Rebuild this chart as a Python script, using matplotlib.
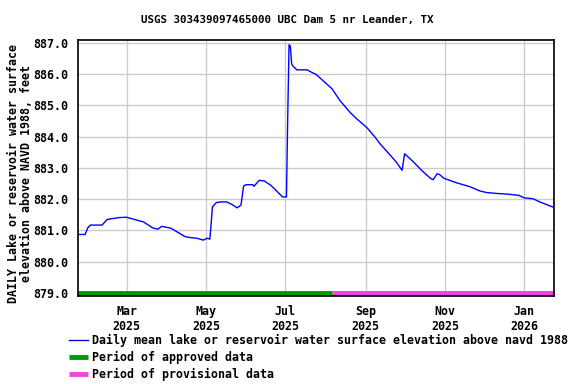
import matplotlib
matplotlib.use("Agg")
from matplotlib import pyplot as plt
import pandas as pd

# daily mean elevation
dates = ["2025-01-23", "2025-01-28", "2025-01-30", "2025-02-01", "2025-02-10",
         "2025-02-14", "2025-02-23", "2025-03-01", "2025-03-06", "2025-03-14",
         "2025-03-21", "2025-03-25", "2025-03-28", "2025-04-04", "2025-04-15",
         "2025-04-19", "2025-04-24", "2025-04-29", "2025-05-02", "2025-05-04",
         "2025-05-05", "2025-05-06", "2025-05-09", "2025-05-13", "2025-05-17",
         "2025-05-21", "2025-05-25", "2025-05-28", "2025-05-30", "2025-06-01",
         "2025-06-06", "2025-06-07", "2025-06-11", "2025-06-15", "2025-06-20",
         "2025-06-29", "2025-07-02", "2025-07-03", "2025-07-04", "2025-07-05",
         "2025-07-06", "2025-07-07", "2025-07-10", "2025-07-18", "2025-07-21",
         "2025-07-25", "2025-07-30", "2025-08-06", "2025-08-12", "2025-08-20",
         "2025-08-25", "2025-09-02", "2025-09-08", "2025-09-12", "2025-09-20",
         "2025-09-25", "2025-09-29", "2025-10-01", "2025-10-08", "2025-10-14",
         "2025-10-21", "2025-10-23", "2025-10-26", "2025-10-28", "2025-10-31",
         "2025-11-10", "2025-11-20", "2025-11-28", "2025-12-03", "2025-12-11",
         "2025-12-19", "2025-12-28", "2026-01-01", "2026-01-08", "2026-01-13",
         "2026-01-18", "2026-01-23"]
elev = [880.87, 880.87, 881.08, 881.17, 881.17,
        881.35, 881.41, 881.42, 881.36, 881.27,
        881.08, 881.04, 881.13, 881.07, 880.80,
        880.77, 880.75, 880.69, 880.75, 880.72,
        881.20, 881.75, 881.89, 881.91, 881.91,
        881.83, 881.72, 881.81, 882.42, 882.46,
        882.46, 882.41, 882.60, 882.58, 882.44,
        882.07, 882.07, 884.68, 886.93, 886.89,
        886.32, 886.25, 886.13, 886.13, 886.06,
        885.98, 885.79, 885.53, 885.16, 884.77,
        884.57, 884.28, 883.99, 883.77, 883.40,
        883.16, 882.92, 883.45, 883.18, 882.92,
        882.66, 882.62, 882.81, 882.78, 882.67,
        882.52, 882.40, 882.26, 882.21, 882.18,
        882.16, 882.12, 882.04, 882.01, 881.91,
        881.83, 881.75]

# approval periods
approved = ["2025-01-22 12:00", "2025-08-06 00:00"]
provisional = ["2025-08-06 00:00", "2026-01-24 00:00"]

tick_dates = ["2025-03-01", "2025-05-01", "2025-07-01", "2025-09-01", "2025-11-01", "2026-01-01"]
tick_labels = ["Mar\n2025", "May\n2025", "Jul\n2025", "Sep\n2025", "Nov\n2025", "Jan\n2026"]
yticks = [879, 880, 881, 882, 883, 884, 885, 886, 887]

plt.rcParams["font.family"] = "DejaVu Sans Mono"
plt.rcParams["font.weight"] = "bold"
fs = 8.4

fig = plt.figure(figsize=(5.76, 3.84), dpi=100)
ax1 = fig.add_axes([78/576, 1-295.5/384, 476/576, 256/384])

t = pd.to_datetime(dates)
ax1.plot(t, elev, color="#0000ff", lw=1.0,
         label="Daily mean lake or reservoir water surface elevation above navd 1988")
ax1.plot(pd.to_datetime(approved), [879, 879], color="#009900", lw=3.5,
         solid_capstyle="butt", clip_on=False, label="Period of approved data")
ax1.plot(pd.to_datetime(provisional), [879, 879], color="#ee44dd", lw=3.5,
         solid_capstyle="butt", clip_on=False, label="Period of provisional data")

ax1.set_xlim(pd.Timestamp(approved[0]), pd.Timestamp(provisional[1]))
ax1.set_ylim(878.92, 887.1)
ax1.set_yticks(yticks)
ax1.set_yticklabels([f"{v:.1f}" for v in yticks], fontsize=fs, fontweight="bold")
ax1.set_xticks(pd.to_datetime(tick_dates))
ax1.set_xticklabels(tick_labels, fontsize=fs, fontweight="bold")
ax1.tick_params(length=0, pad=7)
ax1.grid(color="#cccccc", lw=1)
ax1.set_axisbelow(True)
for s in ax1.spines.values():
    s.set_linewidth(1.2)

ax1.set_ylabel("DAILY Lake or reservoir water surface\nelevation above NAVD 1988, feet",
               fontsize=fs, fontweight="bold", linespacing=1.0)
ax1.yaxis.set_label_coords(-0.094, 0.475)
fig.text(0.499, 1-20/384, "USGS 303439097465000 UBC Dam 5 nr Leander, TX",
         ha="center", va="center", fontsize=7.8, fontweight="bold")

fig.legend(loc="upper left", bbox_to_anchor=(69/576, 1-334/384), frameon=False,
           prop={"size": fs, "weight": "bold"}, handlelength=1.6, handletextpad=0.4,
           labelspacing=0.35, borderaxespad=0, borderpad=0)

fig.savefig("out.png", dpi=100)
